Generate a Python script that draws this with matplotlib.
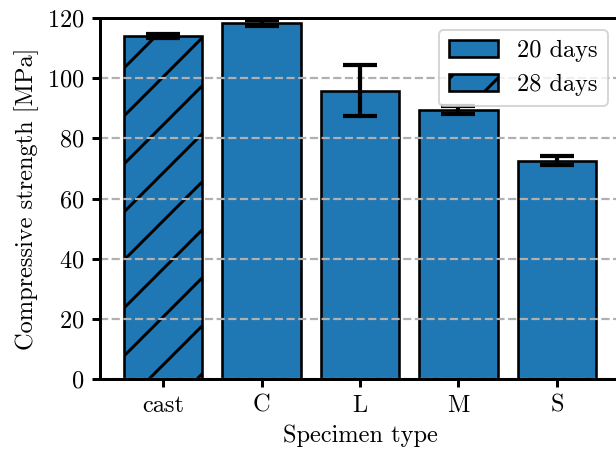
import matplotlib
matplotlib.use("Agg")
import matplotlib.pyplot as plt
from matplotlib.patches import Patch

plt.rcParams["font.family"] = ["cmr10", "DejaVu Serif"]
plt.rcParams["mathtext.fontset"] = "cm"
plt.rcParams["axes.formatter.use_mathtext"] = True
plt.rcParams["font.size"] = 12.2
plt.rcParams["hatch.linewidth"] = 1.5


# data

labels = ["cast", "C", "L", "M", "S"]
strength = [114.0, 118.3, 95.8, 89.4, 72.5]
err = [0.8, 1.0, 8.5, 1.3, 1.5]
is_28d = [True, False, False, False, False]

blue = "#1f77b4"

fig = plt.figure(figsize=(616 / 144, 454 / 144), dpi=144)
ax = fig.add_axes([100 / 616, 1 - 379 / 454, 520 / 616, 361 / 454])

x = list(range(len(labels)))
x20 = [i for i in x if not is_28d[i]]
x28 = [i for i in x if is_28d[i]]

# bars sit under the grid, error bars on top
ax.bar(x20, [strength[i] for i in x20], width=0.8, color=blue,
       edgecolor="black", linewidth=1.3, zorder=0.2)
ax.bar(x28, [strength[i] for i in x28], width=0.8, color=blue,
       edgecolor="black", linewidth=1.3, hatch="/", zorder=0.2)
ax.errorbar(x, strength, yerr=err, fmt="none", ecolor="black",
            elinewidth=2.1, capsize=8.3, capthick=2.1, zorder=3)

ax.set_ylim(0, 120)
ax.set_yticks(range(0, 121, 20))
ax.set_xticks(x)
ax.set_xticklabels(labels)
ax.set_xlim(-0.64, 4.64)
ax.set_xlabel("Specimen type")
ax.set_ylabel("Compressive strength [MPa]")

ax.set_axisbelow(True)
ax.grid(axis="y", linestyle="--", color="#b0b0b0", linewidth=1.1)
for s in ax.spines.values():
    s.set_linewidth(1.5)
ax.tick_params(width=1.5, length=4.2)

handles = [
    Patch(facecolor=blue, edgecolor="black", linewidth=1.3, label="20 days"),
    Patch(facecolor=blue, edgecolor="black", linewidth=1.3, hatch="/", label="28 days"),
]
ax.legend(handles=handles, loc="upper right", fancybox=True, framealpha=0.8)

fig.savefig("out.png", dpi=144)
